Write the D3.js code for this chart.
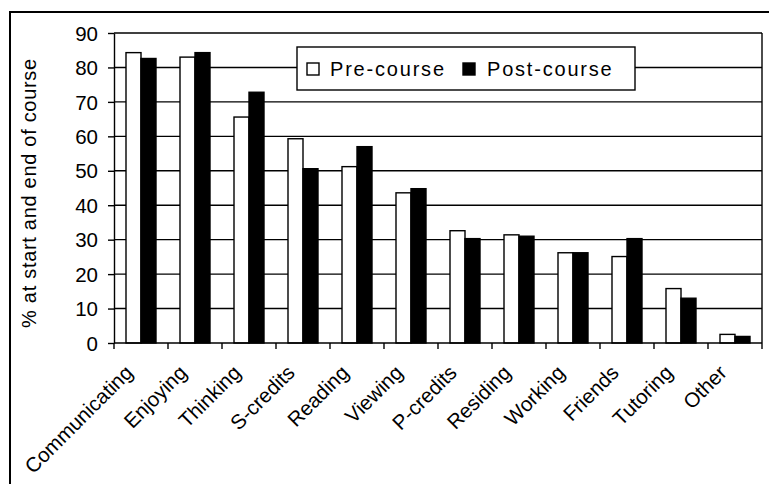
<!DOCTYPE html>
<html>
<head>
<meta charset="utf-8">
<script src="https://cdn.jsdelivr.net/npm/d3@7"></script>
<style>
  html, body { margin: 0; padding: 0; background: #fff; }
  svg { display: block; }
  text { font-family: "Liberation Sans", Arial, sans-serif; fill: #000; }
</style>
</head>
<body>
<svg id="chart" width="769" height="484"></svg>
<script>
const categories = ["Communicating", "Enjoying", "Thinking", "S-credits", "Reading", "Viewing",
                    "P-credits", "Residing", "Working", "Friends", "Tutoring", "Other"];
const seriesNames = ["Pre-course", "Post-course"];
const preCourse  = [84.3, 83.0, 65.6, 59.3, 51.2, 43.6, 32.6, 31.4, 26.2, 25.1, 15.8, 2.5];
const postCourse = [82.6, 84.3, 72.8, 50.6, 57.0, 44.8, 30.3, 31.0, 26.2, 30.3, 13.0, 1.9];
const yTicks = [0, 10, 20, 30, 40, 50, 60, 70, 80, 90];
const yTitle = "% at start and end of course";

const svg = d3.select("#chart");
const W = 769, H = 484;
const m = { left: 114, right: 762, top: 33, bottom: 343 };

// outer frame (clipped by the window at right/bottom)
svg.append("rect").attr("x", 10).attr("y", 12).attr("width", W + 10).attr("height", H + 10)
  .attr("fill", "#fff").attr("stroke", "#000").attr("stroke-width", 2);

const x = d3.scaleBand().domain(categories).range([m.left, m.right]).paddingInner(0).paddingOuter(0);
const x1 = d3.scaleBand().domain(seriesNames).range([0, x.bandwidth()]).paddingInner(0).paddingOuter(0.8);
const y = d3.scaleLinear().domain([0, 90]).range([m.bottom, m.top]);

// gridlines
svg.append("g").selectAll("line").data(yTicks.filter(d => d > 0)).join("line")
  .attr("x1", m.left).attr("x2", m.right)
  .attr("y1", d => y(d)).attr("y2", d => y(d))
  .attr("stroke", "#000").attr("stroke-width", 1.4);

// right border
svg.append("line").attr("x1", m.right).attr("x2", m.right).attr("y1", m.top).attr("y2", m.bottom)
  .attr("stroke", "#000").attr("stroke-width", 1.4);

// bars
const data = categories.map((c, i) => ({ c, vals: [
  { s: seriesNames[0], v: preCourse[i] },
  { s: seriesNames[1], v: postCourse[i] } ] }));
const colors = { "Pre-course": "#fff", "Post-course": "#000" };
const g = svg.append("g").selectAll("g").data(data).join("g")
  .attr("transform", d => `translate(${x(d.c)},0)`);
g.selectAll("rect").data(d => d.vals).join("rect")
  .attr("x", d => x1(d.s)).attr("width", x1.bandwidth())
  .attr("y", d => y(d.v)).attr("height", d => y(0) - y(d.v))
  .attr("fill", d => colors[d.s]).attr("stroke", "#000").attr("stroke-width", 1.4);

// y axis
const yAxis = svg.append("g").attr("transform", `translate(${m.left},0)`)
  .call(d3.axisLeft(y).tickValues(yTicks).tickSize(6).tickPadding(10).tickSizeOuter(0));
yAxis.select(".domain").attr("stroke", "#000").attr("stroke-width", 1.4);
yAxis.selectAll(".tick line").attr("stroke", "#000").attr("stroke-width", 1.4);
yAxis.selectAll(".tick text").attr("font-size", 20.5).attr("font-family", "Liberation Sans, Arial, sans-serif")
  .attr("dy", "0.35em");

// x axis line and ticks at category boundaries
svg.append("line").attr("x1", m.left).attr("x2", m.right).attr("y1", y(0)).attr("y2", y(0))
  .attr("stroke", "#000").attr("stroke-width", 1.4);
const boundaries = categories.map(c => x(c)).concat([x(categories[categories.length - 1]) + x.bandwidth()]);
svg.append("g").selectAll("line").data(boundaries).join("line")
  .attr("x1", d => d).attr("x2", d => d).attr("y1", y(0)).attr("y2", y(0) + 6)
  .attr("stroke", "#000").attr("stroke-width", 1.4);

// x labels
svg.append("g").selectAll("text").data(categories).join("text")
  .attr("transform", d => `translate(${x(d) + x.bandwidth() / 2 - 7},374) rotate(-45)`)
  .attr("text-anchor", "end").attr("font-size", 20.5)
  .text(d => d);

// y title
svg.append("text").attr("transform", `translate(36,193) rotate(-90)`)
  .attr("text-anchor", "middle").attr("font-size", 20).attr("letter-spacing", 0.7)
  .text(yTitle);

// legend
const lg = svg.append("g");
lg.append("rect").attr("x", 297).attr("y", 47).attr("width", 338).attr("height", 43)
  .attr("fill", "#fff").attr("stroke", "#000").attr("stroke-width", 1.4);
const legendItems = [
  { s: seriesNames[0], bx: 307, tx: 330 },
  { s: seriesNames[1], bx: 463, tx: 487 } ];
lg.selectAll("rect.sw").data(legendItems).join("rect").attr("class", "sw")
  .attr("x", d => d.bx).attr("y", 63).attr("width", 12).attr("height", 12)
  .attr("fill", d => colors[d.s]).attr("stroke", "#000").attr("stroke-width", 1.4);
lg.selectAll("text").data(legendItems).join("text")
  .attr("x", d => d.tx).attr("y", 76).attr("font-size", 20).attr("letter-spacing", 1.8)
  .text(d => d.s);
</script>
</body>
</html>
